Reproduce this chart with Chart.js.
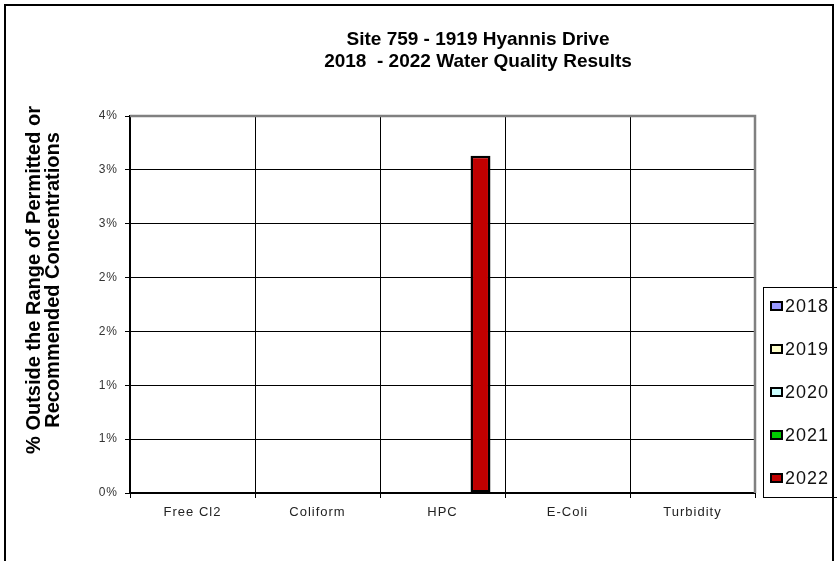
<!DOCTYPE html>
<html>
<head>
<meta charset="utf-8">
<script src="https://cdn.jsdelivr.net/npm/chart.js@4"></script>
<style>
  body { margin: 0; background: #fff; }
  #wrap { position: relative; width: 837px; height: 561px; overflow: hidden; }
  #leyenda {
    position: absolute; left: 763px; top: 287px; width: 90px; height: 211px;
    border: 1.5px solid #000; box-sizing: border-box;
    font: 18px "Liberation Sans", Arial, sans-serif; letter-spacing: 1px; color: #111;
  }
  .item { position: absolute; left: 6px; height: 20px; line-height: 20px; }
  .caja { display: inline-block; width: 9px; height: 6px; border: 2px solid #000; margin-right: 2px; vertical-align: 1px; }
</style>
</head>
<body>
<div id="wrap">
  <canvas id="grafico" width="837" height="561"></canvas>
  <div id="leyenda"></div>
</div>
<script>
// Datos del gráfico
const categorias = ["Free Cl2", "Coliform", "HPC", "E-Coli", "Turbidity"];
const anios      = ["2018", "2019", "2020", "2021", "2022"];
const valores2018 = [0, 0, 0, 0, 0];
const valores2019 = [0, 0, 0, 0, 0];
const valores2020 = [0, 0, 0, 0, 0];
const valores2021 = [0, 0, 0, 0, 0];
const valores2022 = [0, 0, 3.13, 0, 0];
const etiquetasY  = ["0%", "1%", "1%", "2%", "2%", "3%", "3%", "4%"];
const colores     = ["#9999FF", "#FFFFCC", "#CCFFFF", "#00CC00", "#C00000"];

const titulo     = ["Site 759 - 1919 Hyannis Drive", "2018  - 2022 Water Quality Results"];
const tituloEjeY = ["% Outside the Range of Permitted or", "Recommended Concentrations"];

const series = [valores2018, valores2019, valores2020, valores2021, valores2022];
const FUENTE = '"Liberation Sans", Arial, sans-serif';

// Marco exterior, borde gris del área y textos
const decoracion = {
  id: "decoracion",
  beforeDraw(chart) {
    chart.ctx.letterSpacing = "1px"; // etiquetas de los ejes algo espaciadas
  },
  afterDraw(chart) {
    const { ctx, chartArea: a } = chart;
    ctx.letterSpacing = "0px";
    ctx.save();
    ctx.strokeStyle = "#000";
    ctx.lineWidth = 2;
    ctx.strokeRect(5, 5, 828, 600);

    ctx.strokeStyle = "#808080";
    ctx.lineWidth = 2.5;
    ctx.beginPath();
    ctx.moveTo(a.left, a.top);
    ctx.lineTo(a.right, a.top);
    ctx.lineTo(a.right, a.bottom);
    ctx.stroke();

    ctx.fillStyle = "#000";
    ctx.textAlign = "center";
    ctx.textBaseline = "middle";
    ctx.font = "bold 19px " + FUENTE;
    ctx.fillText(titulo[0], 478, 40);
    ctx.fillText(titulo[1], 478, 62);

    ctx.font = "bold 20px " + FUENTE;
    ctx.translate(43, 280);
    ctx.rotate(-Math.PI / 2);
    ctx.fillText(tituloEjeY[0], 0, -9);
    ctx.fillText(tituloEjeY[1], 0, 10);
    ctx.restore();
  }
};

new Chart(document.getElementById("grafico"), {
  type: "bar",
  data: {
    labels: categorias,
    datasets: anios.map((a, i) => ({
      label: a,
      data: series[i],
      backgroundColor: colores[i],
      borderColor: "#000",
      borderWidth: 2.5,
      borderSkipped: false
    }))
  },
  options: {
    responsive: false,
    animation: false,
    devicePixelRatio: 1,
    layout: { padding: { top: 116, right: 82, left: 0, bottom: 0 } },
    datasets: { bar: { barPercentage: 1.05, categoryPercentage: 0.76 } },
    plugins: { legend: { display: false }, tooltip: { enabled: false } },
    scales: {
      x: {
        afterFit: s => { s.height = 68; },
        grid: { color: "#000", lineWidth: 1, tickLength: 5, offset: true },
        border: { color: "#000", width: 2 },
        ticks: { color: "#222", padding: 7, font: { family: FUENTE, size: 13 } }
      },
      y: {
        min: 0, max: 3.5,
        afterFit: s => { s.width = 130; },
        grid: { color: "#000", lineWidth: 1, tickLength: 5 },
        border: { color: "#000", width: 2 },
        ticks: {
          stepSize: 0.5, color: "#333", padding: 7,
          font: { family: FUENTE, size: 12 },
          callback: (v, i) => etiquetasY[i]
        }
      }
    }
  },
  plugins: [decoracion]
});

// Leyenda a la derecha
const posY = [8, 51, 94, 137, 180];
document.getElementById("leyenda").innerHTML = anios.map((a, i) =>
  `<div class="item" style="top:${posY[i]}px"><span class="caja" style="background:${colores[i]}"></span>${a}</div>`
).join("");
</script>
</body>
</html>
